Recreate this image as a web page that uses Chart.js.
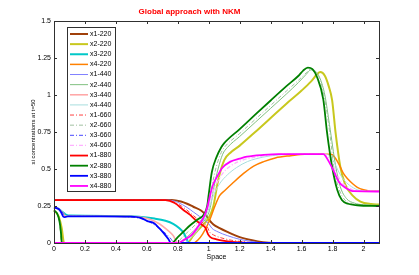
<!DOCTYPE html>
<html>
<head>
<meta charset="utf-8">
<script src="https://cdn.jsdelivr.net/npm/chart.js@4"></script>
<style>
  html, body { margin: 0; padding: 0; background: #fff; }
  #wrap { width: 419px; height: 275px; }
</style>
</head>
<body>
<div id="wrap"><canvas id="chart" width="419" height="275"></canvas></div>
<script>
// series labels and values, as [space, concentration]
const labels = ['x1-220', 'x2-220', 'x3-220', 'x4-220',
                'x1-440', 'x2-440', 'x3-440', 'x4-440',
                'x1-660', 'x2-660', 'x3-660', 'x4-660',
                'x1-880', 'x2-880', 'x3-880', 'x4-880'];

const x1_220 = [[0,0.29],[0.76,0.29],[0.82,0.28],[0.86,0.265],[0.9,0.245],[0.95,0.22],[0.98,0.19],[1.0,0.16],[1.03,0.125],[1.07,0.1],[1.12,0.075],[1.2,0.04],[1.28,0.018],[1.35,0.005],[1.42,0],[2.1,0]];
const x2_220 = [[0,0.22],[0.03,0.18],[0.05,0.1],[0.065,0],[0.86,0],[0.9,0.05],[0.95,0.11],[1.0,0.17],[1.03,0.25],[1.06,0.42],[1.1,0.56],[1.14,0.61],[1.2,0.658],[1.3,0.75],[1.4,0.845],[1.5,0.94],[1.6,1.03],[1.66,1.09],[1.7,1.14],[1.72,1.155],[1.75,1.13],[1.775,1.06],[1.797,0.966],[1.82,0.74],[1.85,0.515],[1.88,0.4],[1.93,0.32],[1.98,0.28],[2.05,0.263],[2.1,0.26]];
const x3_220 = [[0,0.24],[0.03,0.23],[0.06,0.205],[0.08,0.19],[0.1,0.185],[0.4,0.183],[0.55,0.178],[0.65,0.165],[0.72,0.15],[0.77,0.13],[0.81,0.1],[0.84,0.065],[0.86,0.02],[0.87,0],[2.1,0]];
const x4_220 = [[0,0],[0.9,0],[0.93,0.02],[0.96,0.06],[1.0,0.14],[1.04,0.25],[1.07,0.32],[1.107,0.358],[1.15,0.4],[1.225,0.47],[1.29,0.52],[1.355,0.55],[1.43,0.575],[1.53,0.59],[1.62,0.6],[1.79,0.6],[1.81,0.585],[1.84,0.535],[1.87,0.47],[1.9,0.43],[1.93,0.4],[1.96,0.376],[2.0,0.36],[2.05,0.35],[2.1,0.35]];

const x1_440 = [[0,0.29],[0.74,0.29],[0.8,0.275],[0.86,0.24],[0.9,0.21],[0.94,0.18],[0.97,0.155],[1.0,0.13],[1.02,0.1],[1.06,0.075],[1.12,0.05],[1.2,0.025],[1.28,0.01],[1.36,0],[2.1,0]];
const x2_440 = [[0,0.22],[0.02,0.2],[0.04,0.13],[0.055,0],[0.82,0],[0.86,0.04],[0.9,0.08],[0.95,0.13],[0.99,0.18],[1.01,0.24],[1.03,0.36],[1.06,0.5],[1.09,0.6],[1.12,0.645],[1.2,0.72],[1.3,0.815],[1.4,0.91],[1.5,1.005],[1.58,1.085],[1.63,1.14],[1.66,1.17],[1.69,1.16],[1.72,1.11],[1.75,1.0],[1.78,0.8],[1.82,0.52],[1.85,0.38],[1.89,0.3],[1.94,0.27],[2.0,0.258],[2.1,0.255]];
const x3_440 = [[0,0.24],[0.03,0.23],[0.06,0.2],[0.075,0.18],[0.1,0.182],[0.45,0.18],[0.55,0.175],[0.62,0.16],[0.68,0.13],[0.73,0.09],[0.77,0.05],[0.8,0],[2.1,0]];
const x4_440 = [[0,0],[0.84,0],[0.88,0.03],[0.93,0.09],[0.97,0.16],[1.0,0.23],[1.03,0.32],[1.07,0.4],[1.12,0.46],[1.18,0.51],[1.25,0.55],[1.35,0.58],[1.45,0.595],[1.55,0.6],[1.75,0.6],[1.78,0.59],[1.81,0.545],[1.84,0.48],[1.87,0.43],[1.91,0.39],[1.96,0.36],[2.02,0.35],[2.1,0.349]];

const x1_660 = [[0,0.29],[0.73,0.29],[0.79,0.27],[0.85,0.23],[0.89,0.195],[0.93,0.16],[0.97,0.13],[0.99,0.11],[1.005,0.075],[1.03,0.055],[1.08,0.035],[1.15,0.018],[1.25,0.006],[1.33,0],[2.1,0]];
const x2_660 = [[0,0.22],[0.02,0.2],[0.035,0.14],[0.05,0],[0.79,0],[0.83,0.04],[0.87,0.08],[0.92,0.13],[0.97,0.18],[1.0,0.25],[1.02,0.38],[1.05,0.52],[1.08,0.61],[1.1,0.645],[1.2,0.74],[1.3,0.835],[1.4,0.93],[1.5,1.025],[1.58,1.1],[1.63,1.15],[1.66,1.175],[1.69,1.16],[1.72,1.1],[1.75,0.97],[1.78,0.76],[1.81,0.5],[1.84,0.37],[1.88,0.29],[1.93,0.265],[2.0,0.255],[2.1,0.252]];
const x3_660 = [[0,0.24],[0.03,0.23],[0.06,0.2],[0.072,0.178],[0.1,0.18],[0.4,0.179],[0.53,0.172],[0.6,0.15],[0.66,0.115],[0.71,0.075],[0.75,0.035],[0.78,0],[2.1,0]];
const x4_660 = [[0,0],[0.82,0],[0.86,0.03],[0.91,0.09],[0.95,0.15],[0.99,0.22],[1.02,0.32],[1.05,0.4],[1.09,0.47],[1.14,0.52],[1.22,0.56],[1.3,0.58],[1.4,0.594],[1.5,0.6],[1.74,0.6],[1.77,0.585],[1.8,0.53],[1.83,0.46],[1.86,0.41],[1.9,0.375],[1.95,0.355],[2.1,0.349]];

const x1_880 = [[0,0.29],[0.72,0.29],[0.78,0.27],[0.84,0.22],[0.88,0.19],[0.92,0.15],[0.96,0.12],[0.98,0.1],[0.995,0.06],[1.01,0.04],[1.05,0.025],[1.1,0.015],[1.2,0.004],[1.3,0],[2.1,0]];
const x2_880 = [[0,0.22],[0.02,0.2],[0.035,0.15],[0.045,0.07],[0.05,0],[0.76,0],[0.8,0.04],[0.84,0.08],[0.88,0.12],[0.93,0.16],[0.97,0.195],[0.99,0.25],[1.0,0.33],[1.02,0.48],[1.05,0.58],[1.08,0.645],[1.1,0.675],[1.2,0.77],[1.3,0.867],[1.4,0.963],[1.5,1.058],[1.58,1.13],[1.61,1.165],[1.64,1.185],[1.67,1.175],[1.7,1.12],[1.74,0.97],[1.765,0.74],[1.797,0.515],[1.83,0.36],[1.86,0.29],[1.9,0.265],[1.96,0.255],[2.1,0.25]];
const x3_880 = [[0,0.24],[0.03,0.23],[0.045,0.21],[0.06,0.178],[0.07,0.175],[0.09,0.18],[0.3,0.18],[0.5,0.178],[0.56,0.17],[0.6,0.15],[0.647,0.133],[0.68,0.1],[0.71,0.065],[0.74,0.025],[0.755,0],[2.1,0]];
const x4_880 = [[0,0],[0.8,0],[0.837,0.02],[0.89,0.055],[0.93,0.11],[0.97,0.18],[0.99,0.24],[1.01,0.33],[1.03,0.4],[1.06,0.46],[1.085,0.505],[1.14,0.55],[1.2,0.57],[1.247,0.583],[1.355,0.595],[1.45,0.6],[1.74,0.6],[1.776,0.55],[1.81,0.48],[1.84,0.414],[1.883,0.374],[1.94,0.35],[2.1,0.348]];

const seriesData = [x1_220, x2_220, x3_220, x4_220, x1_440, x2_440, x3_440, x4_440,
                    x1_660, x2_660, x3_660, x4_660, x1_880, x2_880, x3_880, x4_880];

const xTicks = [0, 0.2, 0.4, 0.6, 0.8, 1, 1.2, 1.4, 1.6, 1.8, 2];
const yTicks = [0, 0.25, 0.5, 0.75, 1, 1.25, 1.5];

// line styles, MATLAB-like
const colors = ['#a0400a', '#c8c81e', '#00c8c8', '#ff8000',
                '#8080ff', '#80c080', '#ffa8a8', '#a8dede',
                '#ff4040', '#a0c0a0', '#4848ff', '#ffb0ff',
                '#ff0000', '#008000', '#0000ff', '#ff00ff'];
const widths = [2, 2, 2, 1.5, 1, 1, 1.6, 1, 1, 1, 1, 1.3, 1.8, 1.8, 1.8, 1.8];
const dashed = [false, false, false, false, false, false, false, false, true, true, true, true, false, false, false, false];

const FONT = 'Liberation Sans, Arial, sans-serif';

const datasets = seriesData.map((pts, i) => ({
  label: labels[i],
  data: pts.map(p => ({ x: p[0], y: p[1] })),
  borderColor: colors[i],
  borderWidth: widths[i],
  borderDash: dashed[i] ? [4, 2, 1, 2] : [],
  pointRadius: 0,
  cubicInterpolationMode: 'monotone',
  fill: false,
  clip: 3,
  order: labels.length - i
}));

// box round the plot with inward ticks on all sides
const framePlugin = {
  id: 'frame',
  afterDraw(chart) {
    const { ctx, chartArea: a, scales } = chart;
    ctx.save();
    ctx.strokeStyle = '#303030';
    ctx.lineWidth = 1;
    ctx.strokeRect(a.left + 0.5, a.top + 0.5, a.right - a.left, a.bottom - a.top);
    ctx.beginPath();
    xTicks.forEach(v => {
      const px = Math.round(scales.x.getPixelForValue(v)) + 0.5;
      ctx.moveTo(px, a.bottom); ctx.lineTo(px, a.bottom - 3);
      ctx.moveTo(px, a.top); ctx.lineTo(px, a.top + 3);
    });
    yTicks.forEach(v => {
      const py = Math.round(scales.y.getPixelForValue(v)) + 0.5;
      ctx.moveTo(a.left, py); ctx.lineTo(a.left + 3, py);
      ctx.moveTo(a.right, py); ctx.lineTo(a.right - 3, py);
    });
    ctx.stroke();
    ctx.restore();
  }
};

// legend box in the upper left corner, one entry per row
const legendPlugin = {
  id: 'boxLegend',
  afterDraw(chart) {
    const ctx = chart.ctx;
    const left = 67, top = 27, w = 48, h = 164, step = 10.13;
    ctx.save();
    ctx.fillStyle = '#fff';
    ctx.fillRect(left, top, w, h);
    ctx.strokeStyle = '#303030';
    ctx.lineWidth = 1;
    ctx.strokeRect(left + 0.5, top + 0.5, w, h);
    ctx.font = '7px ' + FONT;
    ctx.textBaseline = 'middle';
    labels.forEach((lab, i) => {
      const y = top + 7 + i * step;
      ctx.beginPath();
      ctx.strokeStyle = colors[i];
      ctx.lineWidth = widths[i];
      ctx.setLineDash(dashed[i] ? [4, 2, 1, 2] : []);
      ctx.moveTo(70, y);
      ctx.lineTo(88, y);
      ctx.stroke();
      ctx.setLineDash([]);
      ctx.fillStyle = '#000';
      ctx.fillText(lab, 90, y);
    });
    ctx.restore();
  }
};

new Chart(document.getElementById('chart'), {
  type: 'line',
  data: { datasets },
  options: {
    responsive: false,
    animation: false,
    layout: { padding: { left: 0, right: 40, top: 0, bottom: 0 } },
    plugins: {
      legend: { display: false },
      tooltip: { enabled: false },
      title: {
        display: true,
        text: 'Global approach with NKM',
        color: '#ff0000',
        font: { family: FONT, size: 8, weight: 'bold' },
        padding: { top: 7, bottom: 4.4 }
      }
    },
    scales: {
      x: {
        type: 'linear',
        min: 0,
        max: 2.1,
        grid: { display: false, drawTicks: false },
        border: { display: false },
        afterFit(scale) { scale.height = 32; },
        afterBuildTicks(scale) { scale.ticks = xTicks.map(v => ({ value: v })); },
        ticks: {
          color: '#000',
          font: { family: FONT, size: 7 },
          padding: 2,
          maxRotation: 0,
          autoSkip: false,
          callback: v => String(Number(v.toFixed(2)))
        },
        title: {
          display: true,
          text: 'Space',
          color: '#000',
          font: { family: FONT, size: 7 },
          padding: { top: 0, bottom: 13.3 }
        }
      },
      y: {
        type: 'linear',
        min: 0,
        max: 1.5,
        grid: { display: false, drawTicks: false },
        border: { display: false },
        afterFit(scale) { scale.width = 54; },
        afterBuildTicks(scale) { scale.ticks = yTicks.map(v => ({ value: v })); },
        ticks: {
          color: '#000',
          font: { family: FONT, size: 7 },
          padding: 3,
          autoSkip: false,
          callback: v => String(Number(v.toFixed(2)))
        },
        title: {
          display: true,
          text: 'xi concentrations at t=50',
          color: '#000',
          font: { family: FONT, size: 6 },
          padding: { top: 30, bottom: 0 }
        }
      }
    }
  },
  plugins: [framePlugin, legendPlugin]
});
</script>
</body>
</html>
